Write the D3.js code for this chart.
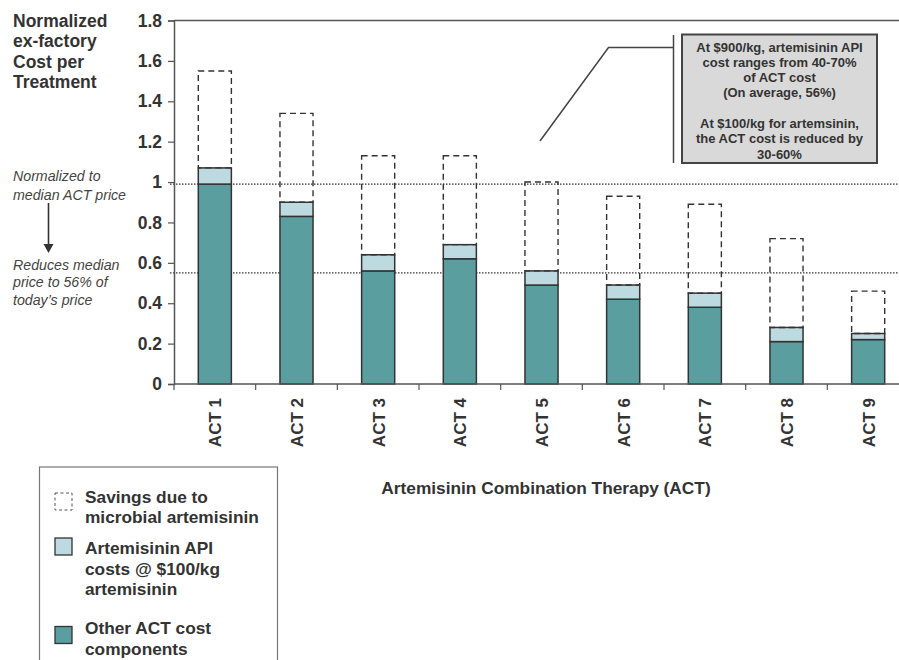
<!DOCTYPE html>
<html>
<head>
<meta charset="utf-8">
<script src="https://cdn.jsdelivr.net/npm/d3@7/dist/d3.min.js"></script>
<style>
  html, body { margin: 0; padding: 0; background: #fff; }
  svg { display: block; font-family: "Liberation Sans", Arial, Helvetica, sans-serif; }
</style>
</head>
<body>
<svg id="chart" width="899" height="660"></svg>
<script>
// ACT cost breakdown, normalized to the median ACT price
const categories = ["ACT 1", "ACT 2", "ACT 3", "ACT 4", "ACT 5", "ACT 6", "ACT 7", "ACT 8", "ACT 9"];
const otherCost = [0.99, 0.83, 0.56, 0.62, 0.49, 0.42, 0.38, 0.21, 0.22];
const apiCost   = [0.08, 0.07, 0.08, 0.07, 0.07, 0.07, 0.07, 0.07, 0.03];
const savings   = [0.48, 0.44, 0.49, 0.44, 0.44, 0.44, 0.44, 0.44, 0.21];
const yTicks = [0, 0.2, 0.4, 0.6, 0.8, 1, 1.2, 1.4, 1.6, 1.8];
const refLines = [0.99, 0.55];

const titleLines = ["Normalized", "ex-factory", "Cost per", "Treatment"];
const noteTop = ["Normalized to", "median ACT price"];
const noteBottom = ["Reduces median", "price to 56% of", "today\u2019s price"];
const calloutLines = [
  "At $900/kg, artemisinin API",
  "cost ranges from 40-70%",
  "of ACT cost",
  "(On average, 56%)",
  "",
  "At $100/kg for artemsinin,",
  "the ACT cost is reduced by",
  "30-60%"
];
const legendItems = [
  { key: "savings", lines: ["Savings due to", "microbial artemisinin"] },
  { key: "api", lines: ["Artemisinin API", "costs @ $100/kg", "artemisinin"] },
  { key: "other", lines: ["Other ACT cost", "components"] }
];
const xTitle = "Artemisinin Combination Therapy (ACT)";

const colors = { other: "#5b9ea0", api: "#bddae0", savings: "none" };
const ink = "#333";

const svg = d3.select("#chart");
const plot = { left: 174, right: 909, top: 20.5, bottom: 384 };

const x = d3.scaleBand().domain(categories).range([plot.left, plot.right]).padding(0);
const y = d3.scaleLinear().domain([0, 1.8]).range([plot.bottom, plot.top]);
const barW = x.bandwidth() * 0.405;

const rows = categories.map((c, i) => ({ cat: c, other: otherCost[i], api: apiCost[i], savings: savings[i] }));
const stacked = d3.stack().keys(["other", "api", "savings"])(rows);

// plot frame (top edge)
svg.append("line").attr("x1", plot.left).attr("x2", plot.right)
  .attr("y1", plot.top).attr("y2", plot.top)
  .attr("stroke", "#555").attr("stroke-width", 1.5);

// reference dotted lines
svg.append("g").selectAll("line").data(refLines).join("line")
  .attr("x1", 170).attr("x2", plot.right)
  .attr("y1", d => y(d)).attr("y2", d => y(d))
  .attr("stroke", "#333").attr("stroke-width", 1.3)
  .attr("stroke-dasharray", "1.5,1.5");

// stacked bars
const layers = svg.append("g").selectAll("g").data(stacked).join("g");
layers.selectAll("rect").data(d => d.map(v => Object.assign({ key: d.key }, v))).join("rect")
  .attr("x", d => x(d.data.cat) + (x.bandwidth() - barW) / 2)
  .attr("width", barW)
  .attr("y", d => y(d[1]))
  .attr("height", d => y(d[0]) - y(d[1]))
  .attr("fill", d => colors[d.key])
  .attr("stroke", ink)
  .attr("stroke-width", d => d.key === "savings" ? 1.4 : 1.5)
  .attr("stroke-dasharray", d => d.key === "savings" ? "6,4" : null);

// y axis
const yAxis = svg.append("g").attr("transform", `translate(${plot.left},0)`)
  .call(d3.axisLeft(y).tickValues(yTicks).tickSize(6).tickPadding(6).tickFormat(d3.format("~g")));
yAxis.select(".domain").attr("stroke", "#555").attr("stroke-width", 1.5);
yAxis.selectAll(".tick line").attr("stroke", "#555").attr("stroke-width", 1.2);
yAxis.selectAll(".tick text")
  .attr("font-size", 17.5).attr("font-weight", "bold").attr("fill", ink)
  .attr("font-family", "'Liberation Sans', Arial, sans-serif");

// x axis: baseline with ticks on category boundaries
svg.append("line").attr("x1", plot.left).attr("x2", plot.right)
  .attr("y1", plot.bottom).attr("y2", plot.bottom)
  .attr("stroke", "#555").attr("stroke-width", 1.5);
const bounds = categories.map(c => x(c)).concat([x(categories[categories.length - 1]) + x.bandwidth()]);
svg.append("g").selectAll("line").data(bounds).join("line")
  .attr("x1", d => d).attr("x2", d => d)
  .attr("y1", plot.bottom).attr("y2", plot.bottom + 6)
  .attr("stroke", "#555").attr("stroke-width", 1.2);

// rotated category labels
svg.append("g").selectAll("text").data(categories).join("text")
  .attr("transform", d => `translate(${x(d) + x.bandwidth() / 2 + 6.5},398) rotate(-90)`)
  .attr("text-anchor", "end")
  .attr("font-size", 17).attr("font-weight", "bold").attr("fill", ink)
  .text(d => d);

// x axis title
svg.append("text").attr("x", 546).attr("y", 494)
  .attr("text-anchor", "middle").attr("font-size", 17.3).attr("font-weight", "bold").attr("fill", ink)
  .text(xTitle);

// y axis title
svg.append("g").selectAll("text").data(titleLines).join("text")
  .attr("x", 13).attr("y", (d, i) => 26.5 + i * 20.5)
  .attr("font-size", 17.5).attr("font-weight", "bold").attr("fill", ink)
  .text(d => d);

// italic side notes and arrow
svg.append("g").selectAll("text").data(noteTop).join("text")
  .attr("x", 13).attr("y", (d, i) => 181 + i * 18.5)
  .attr("font-size", 14.2).attr("font-style", "italic").attr("fill", "#444")
  .text(d => d);
svg.append("g").selectAll("text").data(noteBottom).join("text")
  .attr("x", 13).attr("y", (d, i) => 269.5 + i * 17.5)
  .attr("font-size", 14.2).attr("font-style", "italic").attr("fill", "#444")
  .text(d => d);
svg.append("line").attr("x1", 48.5).attr("x2", 48.5).attr("y1", 203).attr("y2", 245)
  .attr("stroke", "#333").attr("stroke-width", 1.6);
svg.append("path").attr("d", "M43.5,244 L53.5,244 L48.5,253 Z").attr("fill", "#333");

// callout box with leader line
svg.append("path")
  .attr("d", "M540,141 L608.5,47.5 L673.5,47.5")
  .attr("fill", "none").attr("stroke", "#444").attr("stroke-width", 1.5);
svg.append("line").attr("x1", 673.5).attr("x2", 673.5).attr("y1", 35).attr("y2", 163)
  .attr("stroke", "#444").attr("stroke-width", 1.5);
svg.append("rect").attr("x", 682).attr("y", 34.5).attr("width", 195).attr("height", 128.5)
  .attr("fill", "#d9d9d9").attr("stroke", "#444").attr("stroke-width", 2);
svg.append("g").selectAll("text").data(calloutLines).join("text")
  .attr("x", 779.5).attr("y", (d, i) => 51.5 + i * 15.3)
  .attr("text-anchor", "middle")
  .attr("font-size", 13).attr("font-weight", "bold").attr("fill", ink)
  .text(d => d);

// legend
svg.append("rect").attr("x", 39.5).attr("y", 467).attr("width", 238).attr("height", 220)
  .attr("fill", "#fff").attr("stroke", "#777").attr("stroke-width", 1.2);
const legendY = [502.5, 554, 634];
const swatchY = [493, 538, 626.5];
legendItems.forEach((item, i) => {
  svg.append("rect").attr("x", 55).attr("y", swatchY[i]).attr("width", 17).attr("height", 17)
    .attr("fill", colors[item.key])
    .attr("stroke", item.key === "savings" ? "#555" : ink)
    .attr("stroke-width", item.key === "savings" ? 1 : 1.3)
    .attr("stroke-dasharray", item.key === "savings" ? "3,2.5" : null);
  svg.append("g").selectAll("text").data(item.lines).join("text")
    .attr("x", 85).attr("y", (d, j) => legendY[i] + j * 20.5)
    .attr("font-size", 17.3).attr("font-weight", "bold").attr("fill", ink)
    .text(d => d);
});
</script>
</body>
</html>
